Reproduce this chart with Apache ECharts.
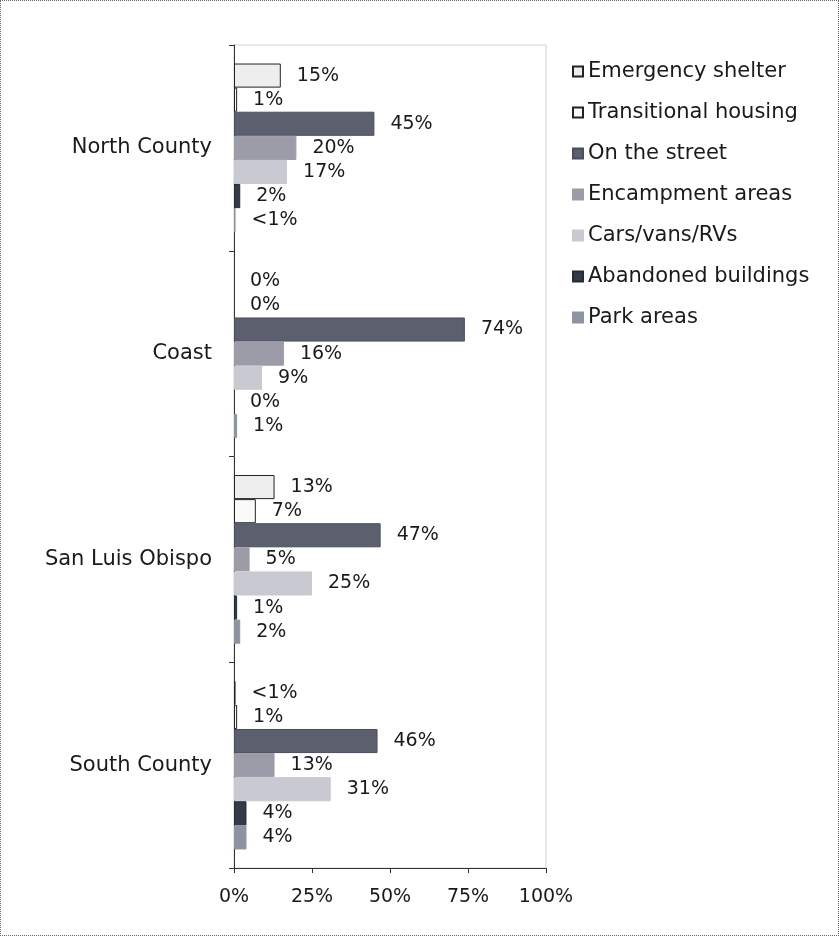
<!DOCTYPE html>
<html><head><meta charset="utf-8">
<script src="https://cdn.jsdelivr.net/npm/echarts@6/dist/echarts.min.js"></script>
<style>
html,body{margin:0;padding:0;background:#fff;}
#c{width:839px;height:936px;box-sizing:border-box;border:1px dotted #666;}
</style></head>
<body><div id="c"></div>
<script>
const categories = ['North County', 'Coast', 'San Luis Obispo', 'South County'];
const seriesNames = ['Emergency shelter', 'Transitional housing', 'On the street', 'Encampment areas', 'Cars/vans/RVs', 'Abandoned buildings', 'Park areas'];
const emergencyShelter = [15, 0, 13, 0.5];
const transitionalHousing = [1, 0, 7, 1];
const onTheStreet = [45, 74, 47, 46];
const encampmentAreas = [20, 16, 5, 13];
const carsVansRVs = [17, 9, 25, 31];
const abandonedBuildings = [2, 0, 1, 4];
const parkAreas = [0.5, 1, 2, 4];
const xTicks = [0, 25, 50, 75, 100];

const values = [emergencyShelter, transitionalHousing, onTheStreet, encampmentAreas, carsVansRVs, abandonedBuildings, parkAreas];
const fills = ['#eeeeee', '#fafafa', '#5b5f6e', '#9c9ca8', '#c9c9d2', '#323b46', '#8e93a0'];
const borders = ['#222', '#222', '#4a4e5c', '#9c9ca8', '#c9c9d2', '#252c35', '#8e93a0'];
const FONT = 'DejaVu Sans';

const chart = echarts.init(document.getElementById('c'));
chart.setOption({
  animation: false,
  textStyle: { fontFamily: FONT },
  grid: { left: 233, right: 292, top: 44, bottom: 67, show: true, borderColor: '#d0d0d0', borderWidth: 1 },
  legend: {
    orient: 'vertical', left: 566, top: 55, itemWidth: 10, itemHeight: 10, itemGap: 20,
    icon: 'rect',
    data: seriesNames,
    textStyle: { fontSize: 21, color: '#1a1a1a', fontFamily: FONT }
  },
  xAxis: {
    type: 'value', min: 0, max: 100, interval: 25,
    axisLine: { show: true, lineStyle: { color: '#333' } },
    axisTick: { show: true, length: 5, lineStyle: { color: '#333' } },
    splitLine: { show: false },
    axisLabel: { formatter: v => xTicks.includes(v) ? v + '%' : '', fontSize: 19, color: '#1a1a1a', margin: 20 }
  },
  yAxis: {
    type: 'category', data: categories, inverse: true,
    axisLine: { show: true, lineStyle: { color: '#333' } },
    axisTick: { show: true, length: 5, lineStyle: { color: '#333' } },
    axisLabel: { fontSize: 21, color: '#1a1a1a', margin: 22 }
  },
  series: seriesNames.map((name, i) => ({
    name, type: 'bar',
    data: values[i].map(v => v === 0 ? { value: v, itemStyle: { borderWidth: 0 } } : v),
    barGap: '0%', barCategoryGap: '18%',
    itemStyle: { color: fills[i], borderColor: borders[i], borderWidth: 1 },
    label: {
      show: true, position: 'right', distance: 16, fontSize: 19, color: '#1a1a1a',
      formatter: p => (p.value > 0 && p.value < 1) ? '<1%' : p.value + '%'
    }
  }))
});
</script></body></html>
